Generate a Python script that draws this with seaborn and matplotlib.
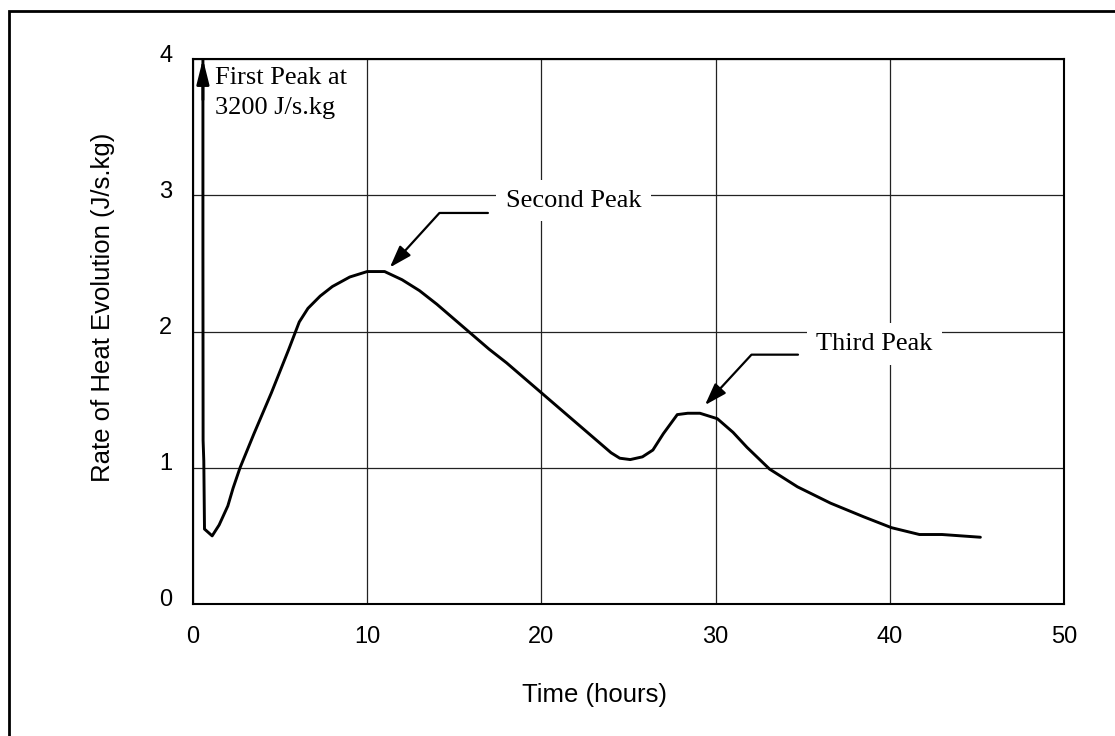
import numpy as np
import pandas as pd
import matplotlib
matplotlib.use("Agg")
import matplotlib.pyplot as plt
import seaborn as sns
from matplotlib.patches import Rectangle
from matplotlib.transforms import ScaledTranslation

# ---- data ----
time_h = [0.57, 0.57, 0.58, 0.62, 0.66, 1.1, 1.5, 2.0, 2.3, 2.7, 3.5, 4.5, 5.5, 6.1, 6.6,
          7.3, 8.0, 9.0, 10.0, 11.0, 12.0, 13.0, 14.0, 15.0, 16.0, 17.0, 18.0, 19.0,
          20.0, 21.0, 22.0, 23.0, 24.0, 24.5, 25.1, 25.8, 26.4, 27.0, 27.8, 28.4, 29.1,
          30.1, 31.0, 31.8, 33.1, 34.7, 36.6, 38.5, 40.1, 41.7, 43.0, 45.2]
heat_rate = [3200, 2.6, 1.2, 1.05, 0.55, 0.50, 0.58, 0.72, 0.85, 1.0, 1.25, 1.55, 1.87, 2.07, 2.17,
             2.26, 2.33, 2.40, 2.44, 2.44, 2.38, 2.30, 2.20, 2.09, 1.98, 1.87, 1.77, 1.66,
             1.55, 1.44, 1.33, 1.22, 1.11, 1.07, 1.06, 1.08, 1.13, 1.25, 1.39, 1.40, 1.40,
             1.36, 1.26, 1.15, 0.99, 0.86, 0.74, 0.64, 0.56, 0.51, 0.51, 0.49]
x_ticks = [0, 10, 20, 30, 40, 50]
y_ticks = [0, 1, 2, 3, 4]
x_label = "Time (hours)"
y_label = "Rate of Heat Evolution (J/s.kg)"
first_peak_text = "First Peak at\n3200 J/s.kg"
second_peak_text = "Second Peak"
third_peak_text = "Third Peak"

df = pd.DataFrame({"time": time_h, "rate": heat_rate})

sns.set_style("white")
plt.rcParams["font.family"] = ["Liberation Sans", "DejaVu Sans"]

W, H, DPI = 1115, 736, 100
fig = plt.figure(figsize=(W / DPI, H / DPI), dpi=DPI)
fig.patch.set_facecolor("white")
ax = fig.add_axes([193 / W, 1 - 604 / H, 871 / W, 545 / H])

sns.lineplot(data=df, x="time", y="rate", ax=ax, estimator=None, sort=False,
             color="black", linewidth=2.1, zorder=3)

ax.set_xlim(0, 50)
ax.set_ylim(0, 4)
ax.set_xticks(x_ticks)
ax.set_yticks(y_ticks)
ax.set_xticklabels([str(v) for v in x_ticks])
ax.set_yticklabels([str(v) for v in y_ticks])

ax.grid(True, color="#222222", linewidth=0.9)
ax.set_axisbelow(True)
for s in ax.spines.values():
    s.set_color("black")
    s.set_linewidth(1.5)

ax.tick_params(axis="both", direction="out", length=6, width=1.2, color="black",
               labelsize=17, labelcolor="black")
ax.tick_params(axis="x", pad=10)
ax.tick_params(axis="y", pad=9)
for lab in ax.get_yticklabels():
    lab.set_transform(lab.get_transform() + ScaledTranslation(0, 6 / DPI, fig.dpi_scale_trans))

ax.set_xlabel(x_label, fontsize=18.5, va="center", color="black")
ax.set_ylabel(y_label, fontsize=18.5, va="center", color="black")
ax.xaxis.set_label_coords((594 - 193) / 871, (604 - 695) / 545)
ax.yaxis.set_label_coords((103 - 193) / 871, (604 - 307) / 545)

serif = ["Liberation Serif", "DejaVu Serif"]
ann_size = 19

# first peak arrowhead
ax.annotate("", xy=(0.57, 4.0), xytext=(0.57, 3.7),
            arrowprops=dict(arrowstyle="-|>,head_length=1.0,head_width=0.25",
                            mutation_scale=15, color="black", lw=2.0,
                            shrinkA=0, shrinkB=0), annotation_clip=False, zorder=4)
ax.text(1.25, 3.94, first_peak_text, family=serif, fontsize=ann_size, ha="left", va="top",
        linespacing=1.45, color="black", zorder=5)

# second peak
ax.text(21.84, 2.96, second_peak_text, family=serif, fontsize=ann_size, ha="center", va="center",
        color="black", bbox=dict(facecolor="white", edgecolor="none", pad=7), zorder=5)
ax.annotate("", xy=(11.3, 2.47), xytext=(16.93, 2.87),
            arrowprops=dict(arrowstyle="-|>,head_length=0.9,head_width=0.3",
                            connectionstyle="angle,angleA=0,angleB=47.7,rad=0",
                            mutation_scale=15, color="black", lw=1.6,
                            shrinkA=0, shrinkB=0), zorder=5)

# third peak
ax.text(39.12, 1.91, third_peak_text, family=serif, fontsize=ann_size, ha="center", va="center",
        color="black", bbox=dict(facecolor="white", edgecolor="none", pad=7), zorder=5)
ax.annotate("", xy=(29.39, 1.46), xytext=(34.73, 1.83),
            arrowprops=dict(arrowstyle="-|>,head_length=0.9,head_width=0.3",
                            connectionstyle="angle,angleA=0,angleB=47.3,rad=0",
                            mutation_scale=15, color="black", lw=1.6,
                            shrinkA=0, shrinkB=0), zorder=5)

# outer frame of the figure (only left/top edges visible in reference)
fig.add_artist(Rectangle((9 / W, -0.1), 1.2, 1 - 11 / H + 0.1, transform=fig.transFigure,
                         fill=False, edgecolor="black", linewidth=2.0, clip_on=False))

fig.savefig("out.png", dpi=DPI)
